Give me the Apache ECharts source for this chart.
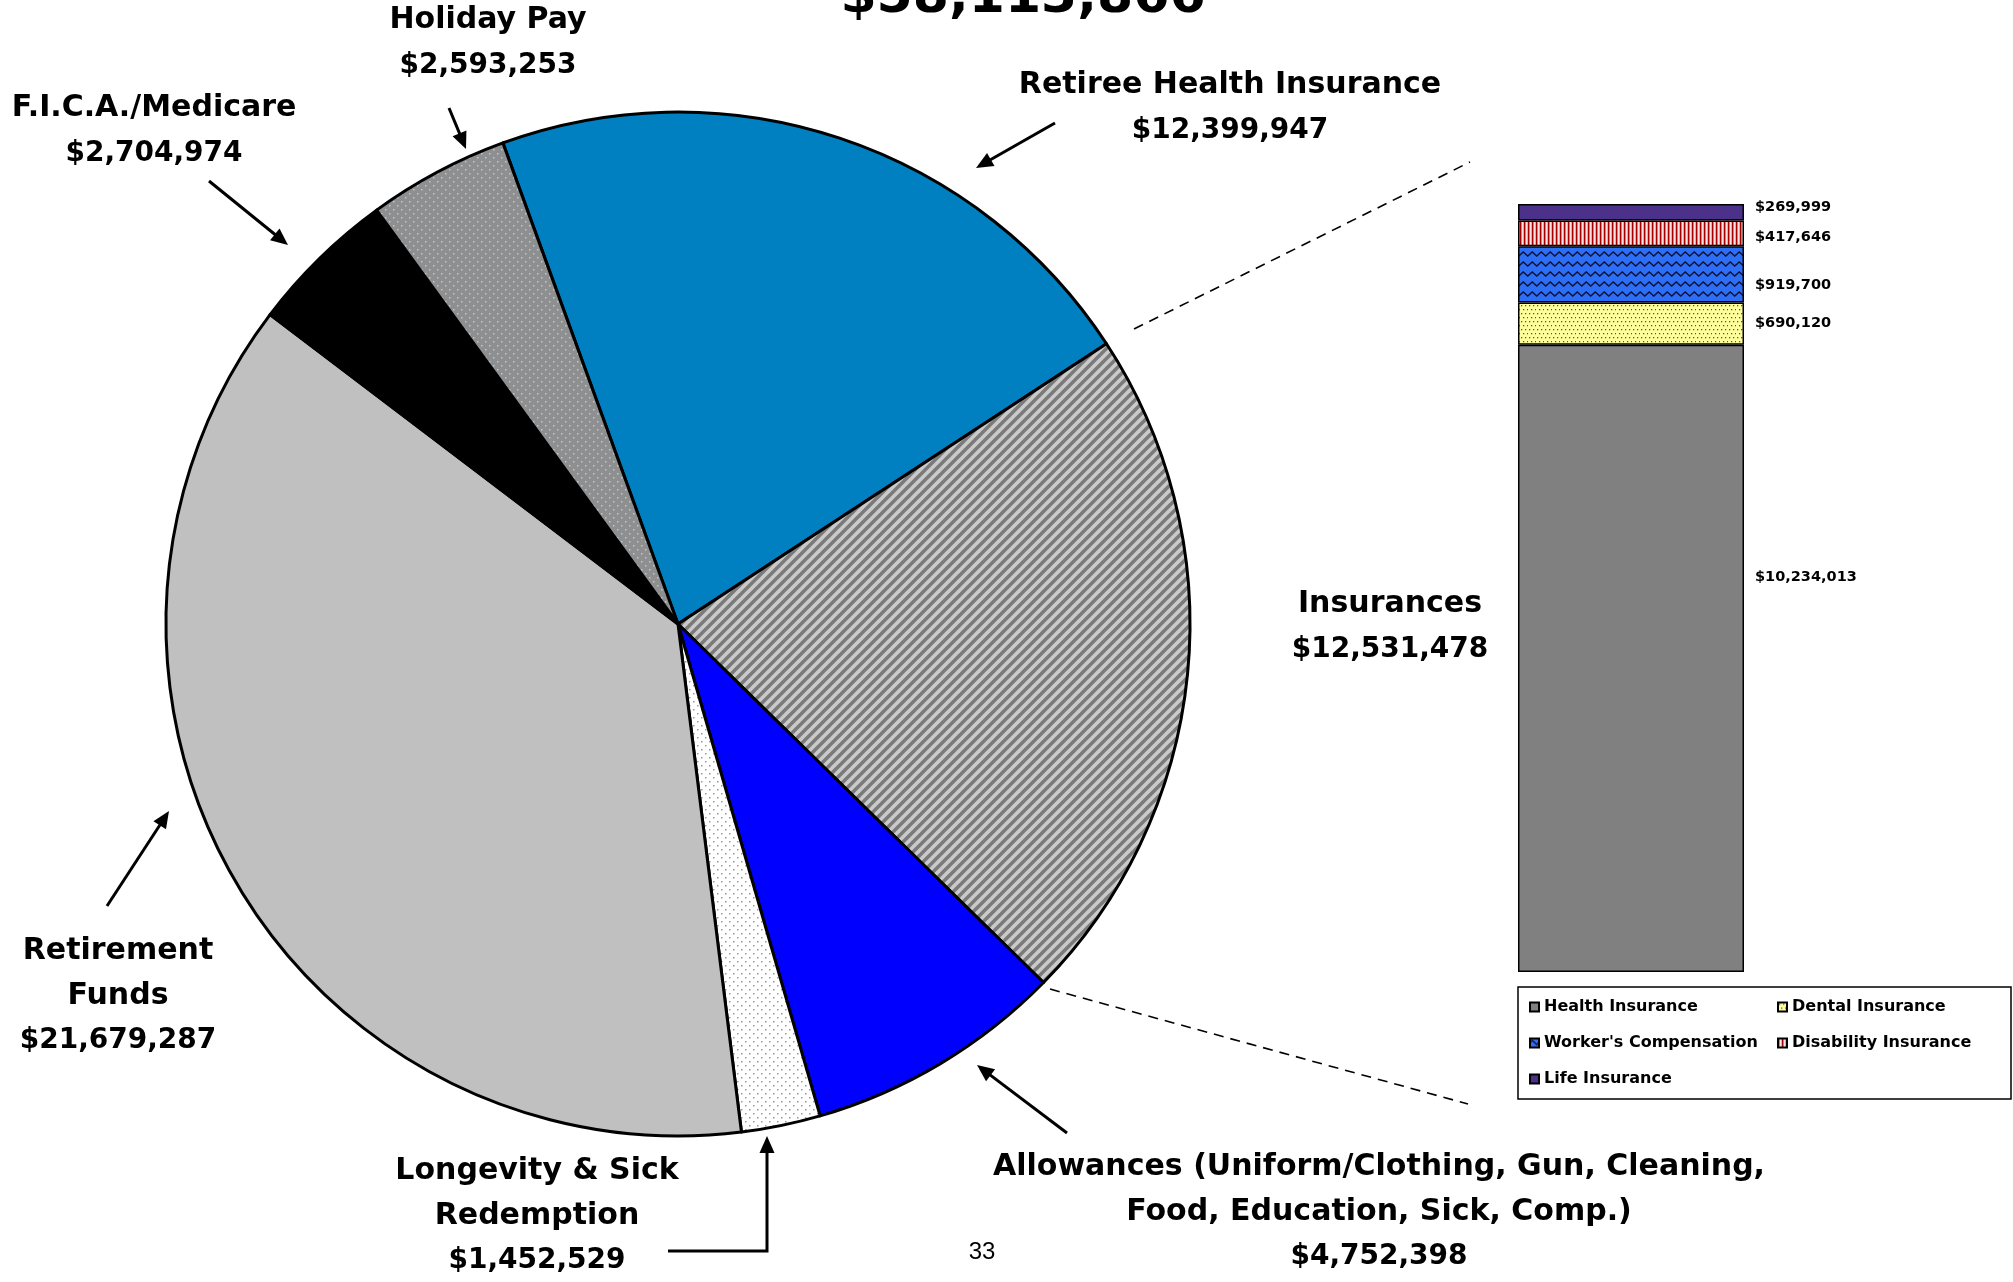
<!DOCTYPE html>
<html>
<head>
<meta charset="utf-8">
<script src="https://cdn.jsdelivr.net/npm/echarts@6/dist/echarts.min.js"></script>
<style>
  html, body { margin: 0; padding: 0; background: #ffffff; }
  #chart { width: 2013px; height: 1282px; }
</style>
</head>
<body>
<div id="chart"></div>
<script>
// Fringe benefit categories, clockwise starting from the Retiree Health slice
const benefitNames = [
  'Retiree Health Insurance',
  'Insurances',
  'Allowances (Uniform/Clothing, Gun, Cleaning,\nFood, Education, Sick, Comp.)',
  'Longevity & Sick\nRedemption',
  'Retirement\nFunds',
  'F.I.C.A./Medicare',
  'Holiday Pay'
];
const benefitValues = [12399947, 12531478, 4752398, 1452529, 21679287, 2704974, 2593253];

// Breakdown of the Insurances slice, stacked bottom to top
const insuranceNames = ['Health Insurance', 'Dental Insurance', "Worker's Compensation", 'Disability Insurance', 'Life Insurance'];
const insuranceValues = [10234013, 690120, 919700, 417646, 269999];

// ---- layout / style ----
const FONT = 'DejaVu Sans';
const pieLabelAt = [[1230, 108], [1390, 627], [1379, 1212], [537, 1216], [118, 996], [154, 131], [488, 43]];
const barLabelOffset = [[0, -81], [0, 0], [0, 11], [0, 4], [0, -5]];

const money = v => '$' + Number(v).toLocaleString('en-US');

function tile(w, h, draw) {
  const c = document.createElement('canvas');
  c.width = w; c.height = h;
  const g = c.getContext('2d');
  draw(g, w, h);
  return { image: c, repeat: 'repeat' };
}
function dots(bg, dot, pts, size) {
  return tile(8, 8, g => {
    g.fillStyle = bg; g.fillRect(0, 0, 8, 8);
    g.fillStyle = dot;
    pts.forEach(p => g.fillRect(p[0], p[1], size, size));
  });
}
const stripes = tile(10, 10, g => {
  g.fillStyle = '#7a7a7a'; g.fillRect(0, 0, 10, 10);
  g.strokeStyle = '#cacaca'; g.lineWidth = 3.6;
  [[-10, 10, 10, -10], [0, 10, 10, 0], [0, 20, 20, 0]].forEach(s => {
    g.beginPath(); g.moveTo(s[0], s[1]); g.lineTo(s[2], s[3]); g.stroke();
  });
});
const holidayDots = dots('#8f8f8f', '#a8cdf2', [[1, 1], [5, 5]], 1.5);
const whiteDots = dots('#ffffff', '#9a9a9a', [[1, 1], [5, 5]], 1.5);
const dentalDots = dots('#ffff99', '#4848c8', [[1, 1], [5, 1], [3, 5], [7, 5]], 1.3);
const waves = tile(9, 10, g => {
  g.fillStyle = '#2c6ef6'; g.fillRect(0, 0, 9, 10);
  g.strokeStyle = '#101030'; g.lineWidth = 1.4;
  g.beginPath();
  g.moveTo(-2.25, 6); g.lineTo(0, 4); g.lineTo(2.25, 2); g.lineTo(4.5, 4); g.lineTo(6.75, 6); g.lineTo(9, 4); g.lineTo(11.25, 2);
  g.stroke();
});
const redLines = tile(4, 2, g => {
  const cols = ['#a80000', '#d87878', '#fae6e6', '#eaa8a8'];
  cols.forEach((c, i) => { g.fillStyle = c; g.fillRect(i, 0, 1, 2); });
});

const pieFills = ['#0080c0', stripes, '#0000ff', whiteDots, '#c0c0c0', '#000000', holidayDots];
const barFills = ['#808080', dentalDots, waves, redLines, '#4b3189'];

const total = benefitValues.reduce((a, b) => a + b, 0);
const insuranceTotal = insuranceValues.reduce((a, b) => a + b, 0);

// annotation arrows pointing at slices
const arrows = [
  [[449, 108], [466, 149]],
  [[209, 181], [288, 245]],
  [[1055, 123], [976, 168]],
  [[107, 906], [169, 811]],
  [[668, 1251], [767, 1251], [767, 1136]],
  [[1067, 1133], [977, 1065]]
];
function arrowGraphics(pts) {
  const a = pts[pts.length - 2], b = pts[pts.length - 1];
  const dx = b[0] - a[0], dy = b[1] - a[1];
  const L = Math.hypot(dx, dy), ux = dx / L, uy = dy / L;
  const len = 17, hw = 7.5;
  const bx = b[0] - ux * len, by = b[1] - uy * len;
  const linePts = pts.slice(0, -1).concat([[b[0] - ux * 8, b[1] - uy * 8]]);
  return [
    { type: 'polyline', shape: { points: linePts }, style: { stroke: '#000', lineWidth: 3, fill: null }, silent: true },
    { type: 'polygon', shape: { points: [b, [bx - uy * hw, by + ux * hw], [bx + uy * hw, by - ux * hw]] }, style: { fill: '#000' }, silent: true }
  ];
}

const graphics = [
  { type: 'text', x: 1023, y: -2, silent: true,
    style: { text: money(total), fontFamily: FONT, fontWeight: 'bold', fontSize: 52, fill: '#000', align: 'center', verticalAlign: 'middle' } },
  { type: 'text', x: 982, y: 1252, silent: true,
    style: { text: '33', fontFamily: 'Liberation Sans', fontSize: 24, fill: '#000', align: 'center', verticalAlign: 'middle' } },
  { type: 'line', shape: { x1: 1134, y1: 329, x2: 1470, y2: 162 }, style: { stroke: '#000', lineWidth: 1.6, lineDash: [10, 7] }, silent: true },
  { type: 'line', shape: { x1: 1050, y1: 989, x2: 1468, y2: 1104 }, style: { stroke: '#000', lineWidth: 1.6, lineDash: [10, 7] }, silent: true },
  { type: 'rect', shape: { x: 1518, y: 987, width: 493, height: 112 }, style: { fill: null, stroke: '#000', lineWidth: 1.5 }, silent: true }
];
arrows.forEach(p => graphics.push(...arrowGraphics(p)));

const legendText = { fontFamily: FONT, fontWeight: 'bold', fontSize: 16, lineHeight: 16, color: '#000' };
const labelName = { fontFamily: FONT, fontWeight: 'bold', fontSize: 30, lineHeight: 45, color: '#000' };
const labelValue = { fontFamily: FONT, fontWeight: 'bold', fontSize: 28, lineHeight: 45, color: '#000' };

const option = {
  animation: false,
  backgroundColor: '#ffffff',
  grid: { left: 1518, top: 204, width: 226, height: 768, containLabel: false },
  xAxis: { type: 'category', data: ['Insurances'], show: false },
  yAxis: { type: 'value', min: 0, max: insuranceTotal, show: false },
  legend: [
    { data: [insuranceNames[0], insuranceNames[2], insuranceNames[4]], orient: 'vertical', left: 1529, top: 999,
      itemWidth: 9, itemHeight: 9, itemGap: 20, padding: 0, icon: 'rect', selectedMode: false, textStyle: legendText },
    { data: [insuranceNames[1], insuranceNames[3]], orient: 'vertical', left: 1777, top: 999,
      itemWidth: 9, itemHeight: 9, itemGap: 20, padding: 0, icon: 'rect', selectedMode: false, textStyle: legendText }
  ],
  series: [
    {
      type: 'pie',
      center: [678, 624],
      radius: 512,
      startAngle: 110,
      clockwise: true,
      avoidLabelOverlap: false,
      silent: true,
      itemStyle: { borderColor: '#000', borderWidth: 3 },
      label: {
        show: true,
        formatter: p => p.name.split('\n').map(s => '{n|' + s + '}').join('\n') + '\n{v|' + money(p.value) + '}',
        rich: { n: labelName, v: labelValue },
        fontFamily: FONT, fontWeight: 'bold', fontSize: 30, lineHeight: 45, color: '#000'
      },
      labelLine: { show: false },
      labelLayout: p => ({ x: pieLabelAt[p.dataIndex][0], y: pieLabelAt[p.dataIndex][1], align: 'center', verticalAlign: 'middle' }),
      data: benefitNames.map((n, i) => ({ name: n, value: benefitValues[i], itemStyle: { color: pieFills[i] } }))
    },
    ...insuranceNames.map((n, i) => ({
      name: n,
      type: 'bar',
      stack: 'ins',
      barWidth: '100%',
      silent: true,
      data: [insuranceValues[i]],
      itemStyle: { color: barFills[i], borderColor: '#000', borderWidth: 1.5 },
      label: {
        show: true, position: 'right', distance: 11, offset: barLabelOffset[i],
        formatter: p => money(p.value),
        fontFamily: FONT, fontWeight: 'bold', fontSize: 14.5, color: '#000'
      }
    }))
  ],
  graphic: graphics
};

const chart = echarts.init(document.getElementById('chart'), null, { renderer: 'canvas' });
chart.setOption(option);
</script>
</body>
</html>
